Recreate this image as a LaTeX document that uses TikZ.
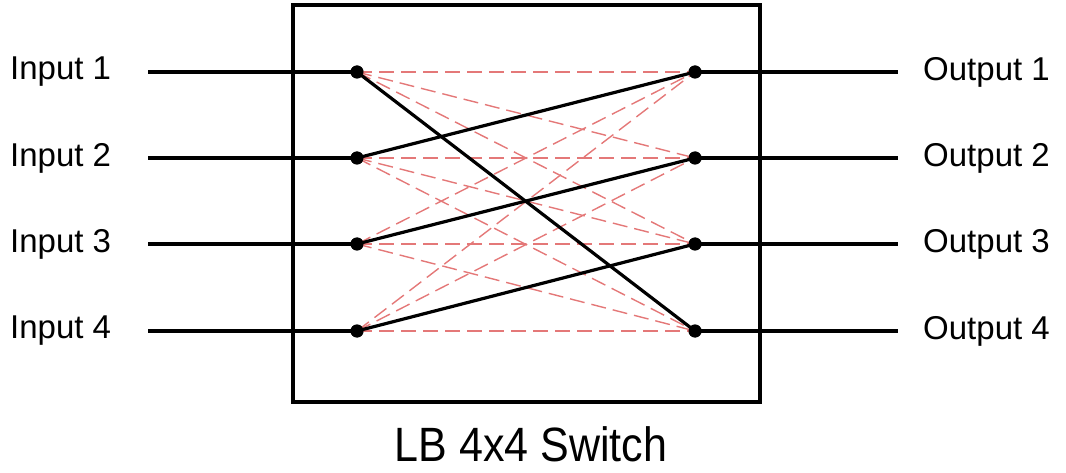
\documentclass[tikz,border=0pt]{standalone}
\usepackage{fontspec}
\setmainfont{Liberation Sans}
\begin{document}
\begin{tikzpicture}[x=1pt,y=-1pt,
  lbl/.style={font=\fontsize{33}{38}\selectfont, inner sep=0pt},
  wire/.style={line width=3.2pt, black},
  cand/.style={line width=1.4pt, draw={rgb,255:red,228;green,120;blue,120}, dash pattern=on 15pt off 7pt},
  conn/.style={line width=3.2pt, black},
  port/.style={circle, fill=black, inner sep=0pt, minimum size=13pt},
  frame/.style={line width=3.4pt, black}]
\useasboundingbox (0,0) rectangle (1066,473);
\draw[frame] (293,5) rectangle (760,402);
\foreach \i/\y in {1/72,2/158,3/244,4/331}{
  \coordinate (a\i) at (148,\y);
  \coordinate (b\i) at (898,\y);
  \node[port] (L\i) at (357,\y) {};
  \node[port] (R\i) at (695,\y) {};
  \node[lbl, anchor=west] (in\i) at (10,\y) {Input \i};
  \node[lbl, anchor=west] (out\i) at (923,\y) {Output \i};
}
\foreach \i in {1,...,4}{
  \draw[wire] (a\i) -- (L\i.center);
  \draw[wire] (R\i.center) -- (b\i);
}
\foreach \i in {1,...,4}{
  \foreach \j in {1,...,4}{
    \draw[cand] (L\i.center) -- (R\j.center);
  }
}
\draw[conn] (L1.center) -- (R4.center);
\draw[conn] (L2.center) -- (R1.center);
\draw[conn] (L3.center) -- (R2.center);
\draw[conn] (L4.center) -- (R3.center);
\foreach \i in {1,...,4}{
  \fill (L\i) circle (6.5pt);
  \fill (R\i) circle (6.5pt);
}
\node[lbl, font=\fontsize{43}{50}\selectfont, yscale=1.12] (cap) at (531,444) {LB 4x4 Switch};
\end{tikzpicture}
\end{document}
